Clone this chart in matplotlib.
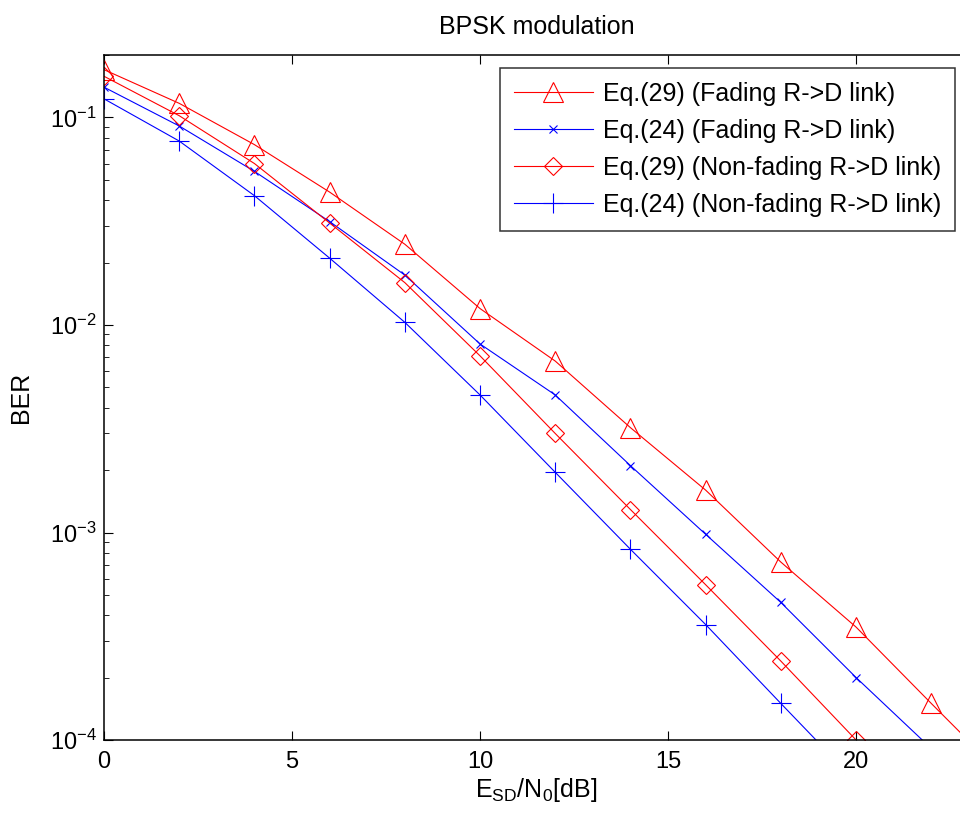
import matplotlib
matplotlib.use("Agg")
import matplotlib.pyplot as plt

plt.rcParams['font.family'] = ['Liberation Sans', 'DejaVu Sans']
plt.rcParams['mathtext.default'] = 'regular'
plt.rcParams['axes.unicode_minus'] = False

# SNR points (dB)
snr = [0, 2, 4, 6, 8, 10, 12, 14, 16, 18, 20, 22, 24]

# BER curves
ber_eq29_fading = [0.17, 0.117, 0.074, 0.0437, 0.0245, 0.012, 0.0067, 0.0032,
                   0.0016, 7.2e-4, 3.5e-4, 1.5e-4, 6.5e-5]
ber_eq24_fading = [0.14, 0.091, 0.055, 0.0315, 0.0174, 0.0081, 0.0046, 0.0021,
                   9.8e-4, 4.6e-4, 2.0e-4, 9.1e-5]
ber_eq29_nonfading = [0.158, 0.102, 0.060, 0.031, 0.016, 0.0071, 0.0030, 0.00129,
                      5.6e-4, 2.4e-4, 1.0e-4]
ber_eq24_nonfading = [0.123, 0.077, 0.042, 0.021, 0.0103, 0.0046, 0.00195, 8.3e-4,
                      3.6e-4, 1.5e-4, 6.3e-5]

labels = ['Eq.(29) (Fading R->D link)',
          'Eq.(24) (Fading R->D link)',
          'Eq.(29) (Non-fading R->D link)',
          'Eq.(24) (Non-fading R->D link)']

fig = plt.figure(figsize=(9.6, 8.16), dpi=100)
ax = fig.add_axes([0.1083, 0.0931, 0.901, 0.8395])

lw = 0.8
ax.semilogy(snr[:len(ber_eq29_fading)], ber_eq29_fading, color='red', lw=lw,
            marker='^', ms=14, mfc='none', mew=0.8, label=labels[0])
ax.semilogy(snr[:len(ber_eq24_fading)], ber_eq24_fading, color='blue', lw=lw,
            marker='x', ms=6, mew=0.8, label=labels[1])
ax.semilogy(snr[:len(ber_eq29_nonfading)], ber_eq29_nonfading, color='red', lw=lw,
            marker='D', ms=9, mfc='none', mew=0.8, label=labels[2])
ax.semilogy(snr[:len(ber_eq24_nonfading)], ber_eq24_nonfading, color='blue', lw=lw,
            marker='+', ms=14, mew=0.8, label=labels[3])

ax.set_xlim(0, 23)
ax.set_ylim(1e-4, 0.2)
ax.set_xticks([0, 5, 10, 15, 20])
ax.tick_params(which='both', direction='in', top=True, right=True, labelsize=17)
ax.tick_params(axis='x', pad=8)
ax.tick_params(axis='y', pad=5)
ax.tick_params(which='major', length=6.5, width=0.8)
ax.tick_params(which='minor', length=3.5, width=0.6)
for s in ax.spines.values():
    s.set_linewidth(1.1)

ax.set_title('BPSK modulation', fontsize=18, pad=15)
ax.set_xlabel(r'E$_{SD}$/N$_0$[dB]', fontsize=18, labelpad=2)
ax.set_ylabel('BER', fontsize=18, labelpad=12)

leg = ax.legend(loc='upper left', bbox_to_anchor=(500 / 960, 1 - 68 / 816),
                bbox_transform=fig.transFigure, fontsize=18, frameon=True,
                fancybox=False, handlelength=3.16, handletextpad=0.4,
                labelspacing=0.52, borderpad=0.55, borderaxespad=0)
leg.get_frame().set_edgecolor('black')
leg.get_frame().set_linewidth(1.1)

fig.savefig('out.png', dpi=100, facecolor='white')
